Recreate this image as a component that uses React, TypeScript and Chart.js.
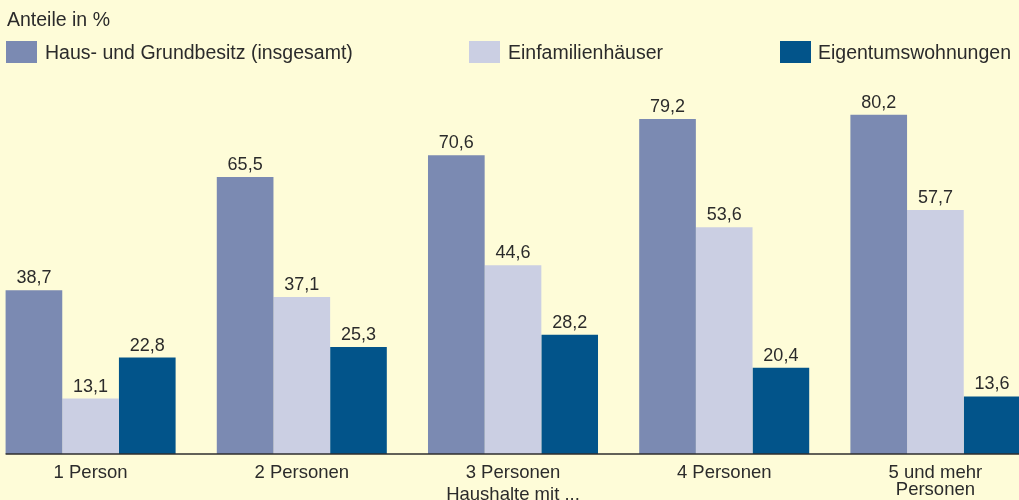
import React, { useEffect, useRef } from "react";
import { Chart, registerables } from "chart.js";

Chart.register(...registerables);

const categories: (string | string[])[] = [
  "1 Person",
  "2 Personen",
  "3 Personen",
  "4 Personen",
  ["5 und mehr", "Personen"],
];
const hausUndGrund = [38.7, 65.5, 70.6, 79.2, 80.2];
const einfamilien = [13.1, 37.1, 44.6, 53.6, 57.7];
const eigentum = [22.8, 25.3, 28.2, 20.4, 13.6];
const seriesNames = [
  "Haus- und Grundbesitz (insgesamt)",
  "Einfamilienhäuser",
  "Eigentumswohnungen",
];
const titleText = "Anteile in %";
const axisTitle = "Haushalte mit ...";

const COLORS = ["#7b8ab2", "#cbcfe3", "#02548a"];
const BG = "#fefcd8";
const TEXT = "#2b2b2b";
const FONT = "'Liberation Sans', Arial, sans-serif";
const SHIFT = 15; // canvas is shifted left so the first category starts off-page

const overlayPlugin = {
  id: "overlay",
  afterDatasetsDraw(chart: any) {
    const ctx = chart.ctx;
    ctx.save();
    // value labels
    ctx.fillStyle = TEXT;
    ctx.font = `18px ${FONT}`;
    ctx.textAlign = "center";
    ctx.textBaseline = "alphabetic";
    chart.data.datasets.forEach((ds: any, i: number) => {
      const meta = chart.getDatasetMeta(i);
      meta.data.forEach((bar: any, j: number) => {
        const v = ds.data[j] as number;
        ctx.fillText(v.toFixed(1).replace(".", ","), bar.x, bar.y - 7);
      });
    });
    // baseline
    const first = chart.getDatasetMeta(0).data[0] as any;
    const left = first.x - first.width / 2;
    const y = chart.chartArea.bottom;
    ctx.strokeStyle = "#2e2e2e";
    ctx.lineWidth = 1.5;
    ctx.beginPath();
    ctx.moveTo(left, y);
    ctx.lineTo(chart.width, y);
    ctx.stroke();

    // title and legend
    ctx.textAlign = "left";
    ctx.font = `19.5px ${FONT}`;
    ctx.fillStyle = TEXT;
    ctx.fillText(titleText, 7 + SHIFT, 26);
    const boxX = [6, 469, 780];
    const textX = [45, 508, 818];
    seriesNames.forEach((name, i) => {
      ctx.fillStyle = COLORS[i];
      ctx.fillRect(boxX[i] + SHIFT, 41, 31, 22);
      ctx.fillStyle = TEXT;
      ctx.fillText(name, textX[i] + SHIFT, 59);
    });
    ctx.restore();
  },
};

export default function App() {
  const canvasRef = useRef<HTMLCanvasElement | null>(null);

  useEffect(() => {
    if (!canvasRef.current) return;
    const chart = new Chart(canvasRef.current, {
      type: "bar",
      data: {
        labels: categories,
        datasets: [
          { label: seriesNames[0], data: hausUndGrund, backgroundColor: COLORS[0] },
          { label: seriesNames[1], data: einfamilien, backgroundColor: COLORS[1] },
          { label: seriesNames[2], data: eigentum, backgroundColor: COLORS[2] },
        ],
      },
      options: {
        animation: false,
        responsive: false,
        devicePixelRatio: 1,
        layout: { padding: { top: 31, left: 0, right: 0, bottom: 0 } },
        datasets: {
          bar: { categoryPercentage: 0.805, barPercentage: 1.0, borderWidth: 0 },
        },
        plugins: {
          legend: { display: false },
          tooltip: { enabled: false },
          title: { display: false },
        },
        scales: {
          x: {
            grid: { display: false, drawTicks: false },
            border: { display: false },
            ticks: {
              color: TEXT,
              font: { family: FONT, size: 18.5, lineHeight: 0.92 },
              padding: 10,
              autoSkip: false,
              maxRotation: 0,
              minRotation: 0,
            },
            title: {
              display: true,
              text: axisTitle,
              color: TEXT,
              font: { family: FONT, size: 18.5, lineHeight: 0.56 },
              padding: 0,
            },
            afterFit: (scale: any) => {
              scale.height = 46;
            },
          },
          y: {
            display: false,
            min: 0,
            max: 100,
          },
        },
      },
      plugins: [overlayPlugin],
    });
    return () => chart.destroy();
  }, []);

  return (
    <div
      style={{
        position: "fixed",
        left: 0,
        top: 0,
        width: 1019,
        height: 500,
        overflow: "hidden",
        background: BG,
      }}
    >
      <div style={{ position: "absolute", left: -SHIFT, top: 0, width: 1056, height: 500 }}>
        <canvas ref={canvasRef} width={1056} height={500} style={{ display: "block" }} />
      </div>
    </div>
  );
}
